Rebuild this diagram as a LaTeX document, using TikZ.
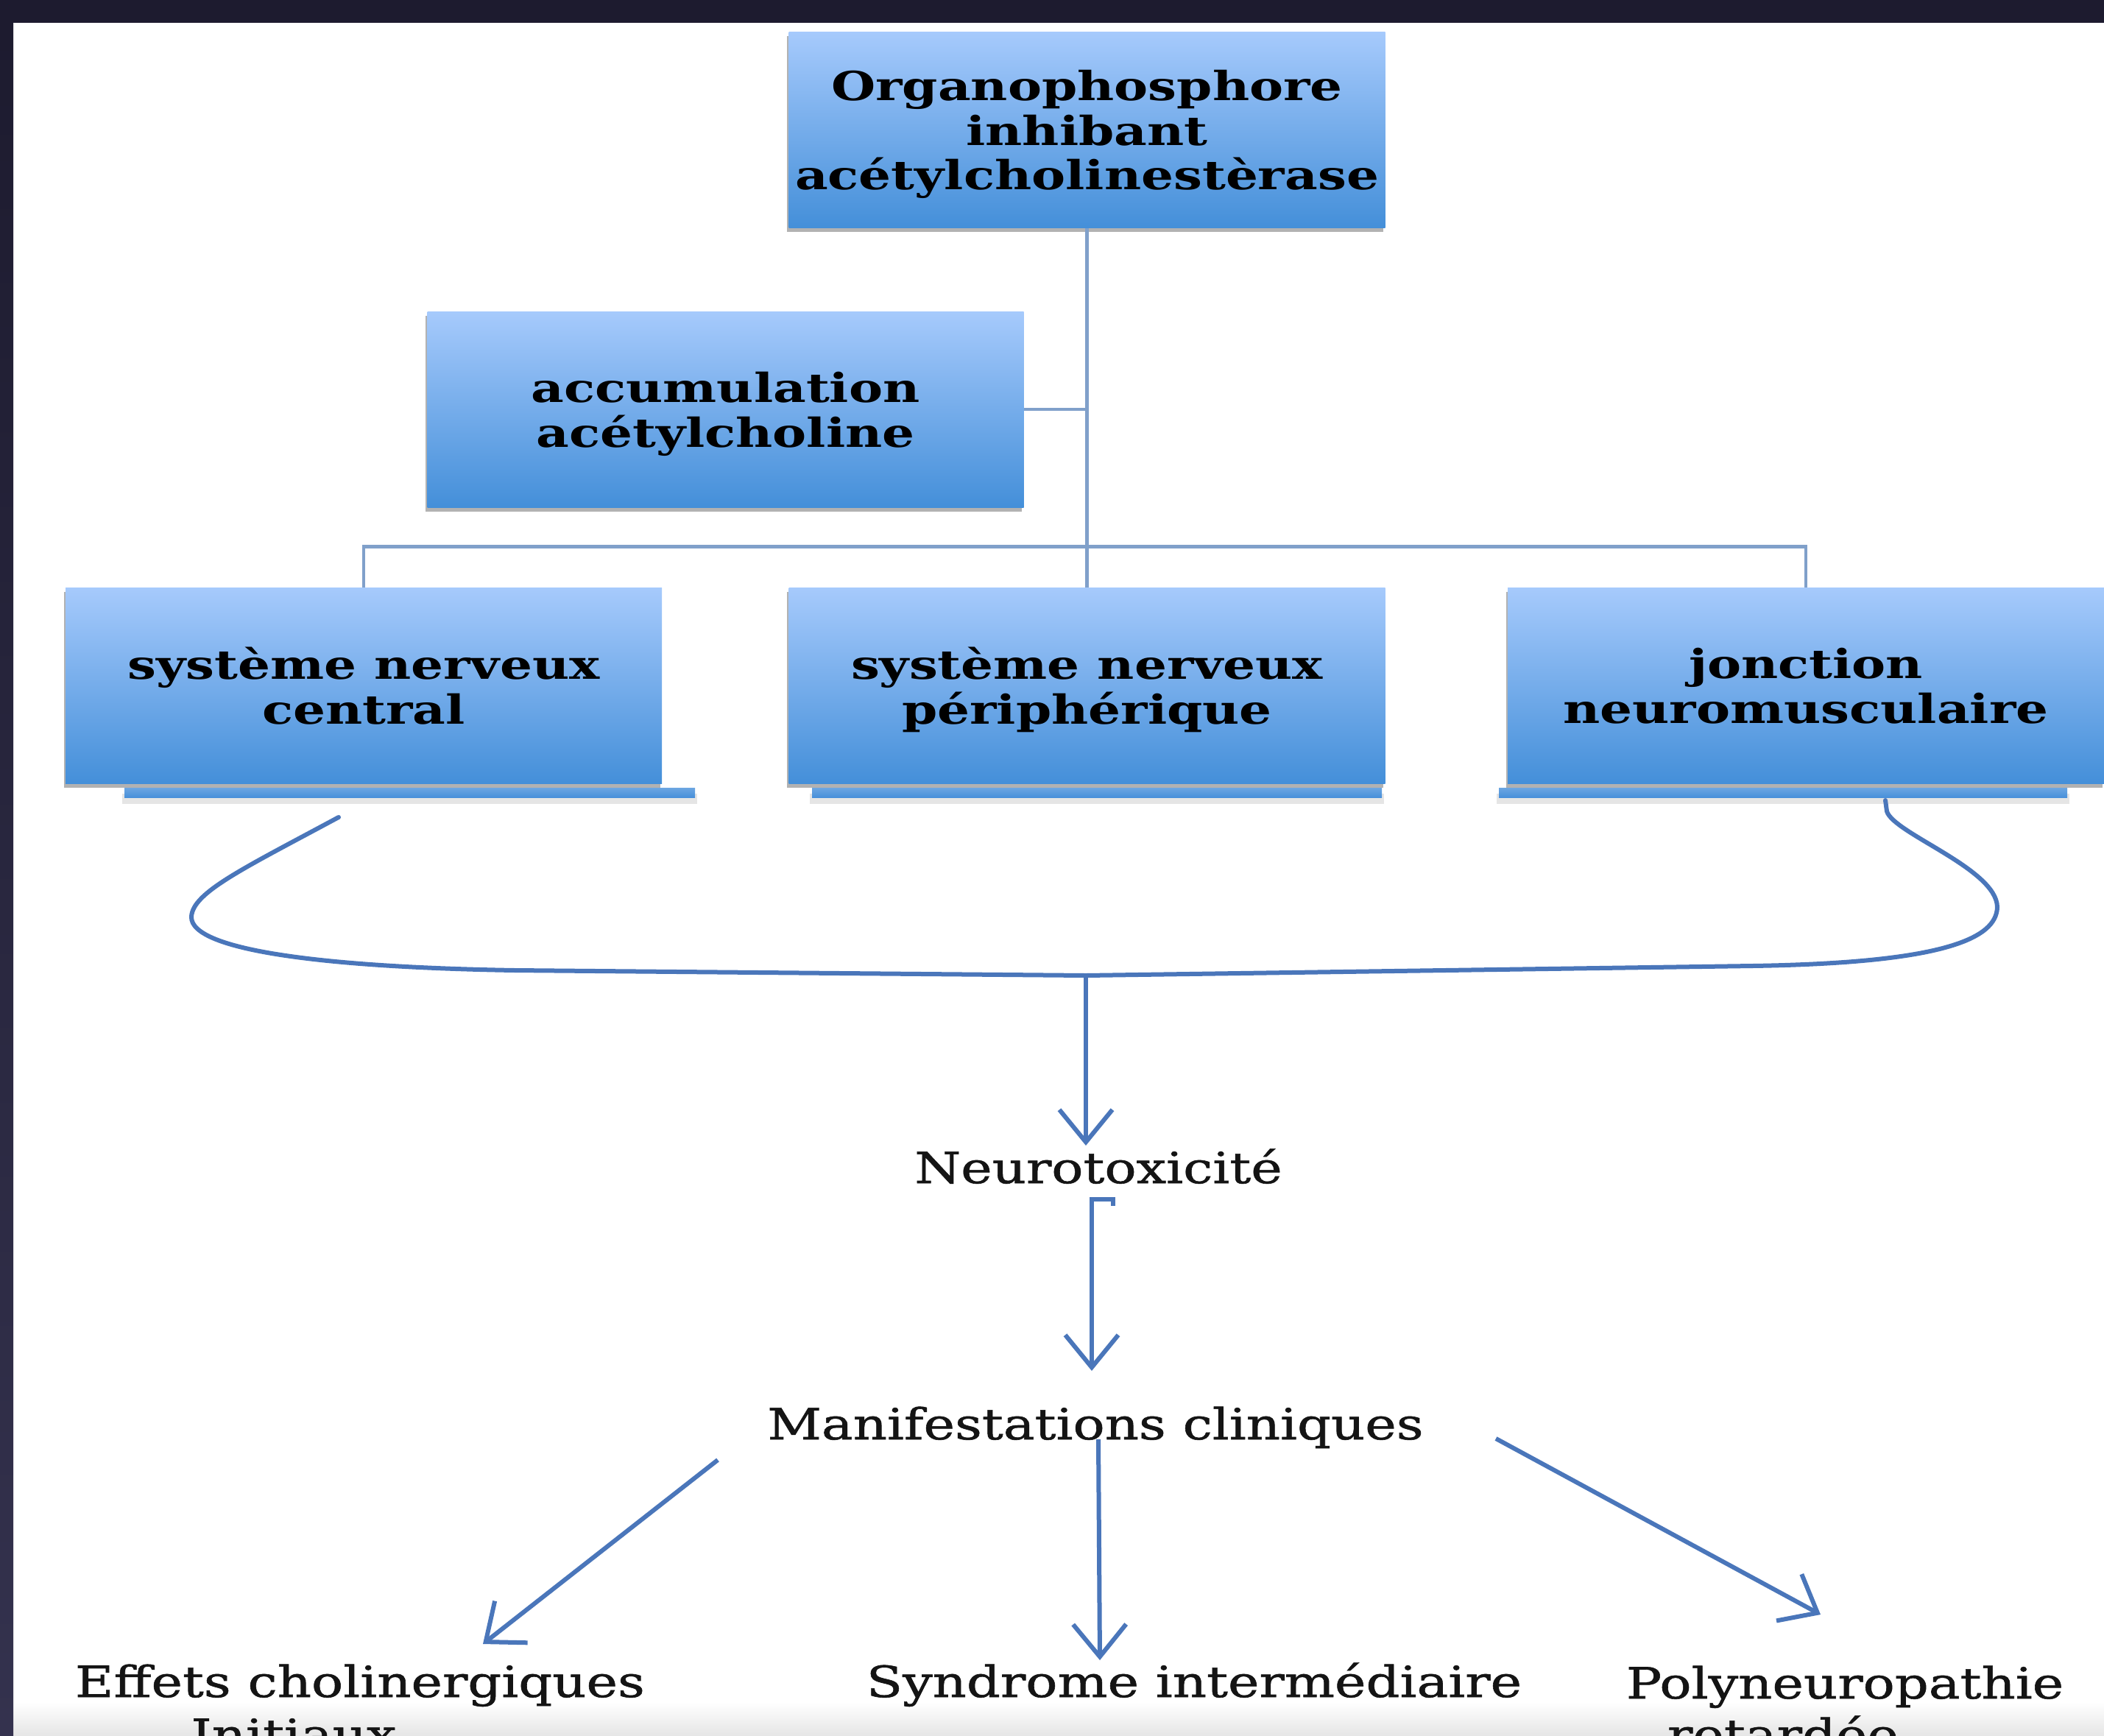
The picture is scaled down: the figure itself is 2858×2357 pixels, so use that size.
\documentclass[tikz,border=0pt]{standalone}
\usepackage{fontspec}
\setmainfont{DejaVu Serif}
\newfontfamily\boxfont[FakeStretch=1.27]{DejaVu Serif}
\newfontfamily\plainfont[FakeStretch=1.23,FakeBold=1]{DejaVu Serif}
\usetikzlibrary{arrows.meta,shadows,calc}
\definecolor{framedark}{RGB}{29,27,47}
\definecolor{framedark2}{RGB}{52,50,78}
\definecolor{boxtop}{RGB}{166,202,252}
\definecolor{boxbot}{RGB}{68,143,217}
\definecolor{stripc}{RGB}{72,144,218}
\definecolor{thinline}{RGB}{128,160,202}
\definecolor{curvec}{RGB}{74,118,186}
\tikzset{
  boxnode/.style={rectangle, draw=none, top color=boxtop, bottom color=boxbot,
    inner sep=0pt, minimum width=202.5pt, minimum height=66.5pt, align=center,
    text depth=0pt,
    font=\boxfont\bfseries\fontsize{13.6}{15.2}\selectfont,
    drop shadow={shadow xshift=-0.6pt, shadow yshift=-1.4pt, opacity=0.3, fill=black}},
  thin connector/.style={draw=thinline, line width=1.2pt},
  bigcurve/.style={draw=curvec, line width=1.5pt, line cap=round},
  arr/.style={draw=curvec, line width=1.5pt, -{Straight Barb[length=11pt, width=18pt]}},
  txt/.style={inner sep=0pt, font=\plainfont\fontsize{14.6}{16}\selectfont, text=black!92},
  strip/.style={fill=stripc}
}
\begin{document}
\begin{tikzpicture}[x=0.25pt,y=-0.25pt]
\clip (0,0) rectangle (2858,2357);
\fill[white] (0,0) rectangle (2858,2357);
% bottom grey fade
\shade[top color=white, bottom color=black!10] (18,2312) rectangle (2858,2357);
% frame
\fill[framedark] (0,0) rectangle (2858,31);
\shade[top color=framedark, bottom color=framedark2] (0,31) rectangle (18,2357);

% strips under the three boxes
\foreach \a/\b in {169/944, 1103/1877, 2036/2808}{
  \fill[black, opacity=0.10] (\a-3,1078) rectangle (\b+3,1092);
  \shade[top color=stripc!80!white, bottom color=stripc] (\a,1070) rectangle (\b,1083);
}

% boxes
\node[boxnode] (top) at (1476.5,176.5) {Organophosphore\\inhibant\\acétylcholinestèrase};
\node[boxnode] (acc) at (985.5,556) {accumulation\\acétylcholine};
\node[boxnode] (snc) at (494,931.5) {système nerveux\\central};
\node[boxnode] (snp) at (1476.5,931.5) {système nerveux\\périphérique};
\node[boxnode] (jnm) at (2453,931.5) {jonction\\neuromusculaire};

% thin connectors
\draw[thin connector] (top.south) -- (snp.north);
\draw[thin connector] (acc.east) -- (acc.east -| top.south);
\draw[thin connector] (snc.north) -- ++(0,-55) -| (jnm.north);

% big curve
\coordinate (cs) at (460,1110);
\coordinate (ce) at (2561,1087);
\coordinate (jn) at (1475,1325);
\draw[bigcurve] (cs) .. controls (330,1180) and (262,1212) .. (260,1245)
  .. controls (258,1292) and (450,1314) .. (700,1318) -- (jn) -- (2380,1312)
  .. controls (2640,1308) and (2712,1275) .. (2713,1232)
  .. controls (2712,1180) and (2572,1132) .. (2563,1102) -- (ce);

% text nodes
\node[txt, anchor=base] (neuro) at (1492,1607) {Neurotoxicité};
\node[txt, anchor=base] (manif) at (1488,1955) {Manifestations cliniques};
\node[txt, anchor=base] (eff) at (489,2305) {Effets cholinergiques};
\node[txt, anchor=base] (init) at (399,2377) {Initiaux};
\node[txt, anchor=base] (synd) at (1622,2305) {Syndrome intermédiaire};
\node[txt, anchor=base] (poly) at (2506,2307) {Polyneuropathie};
\node[txt, anchor=base] (ret) at (2422,2377) {retardée};

% arrows
\coordinate (a1e) at (1475,1556);
\draw[arr] (jn) -- (a1e);
\coordinate (hk) at (1512,1638);
\coordinate (a2s) at (1483,1629);
\coordinate (a2e) at (1483,1862);
\draw[arr] (hk) -- (hk |- a2s) -- (a2s) -- (a2e);
\coordinate (l1) at (975,1983);  \coordinate (l2) at (656,2233);
\coordinate (m1) at (1492,1955); \coordinate (m2) at (1494,2255);
\coordinate (r1) at (2032,1954); \coordinate (r2) at (2473,2193);
\draw[arr] (l1) -- (l2);
\draw[arr] (m1) -- (m2);
\draw[arr] (r1) -- (r2);
\end{tikzpicture}
\end{document}
